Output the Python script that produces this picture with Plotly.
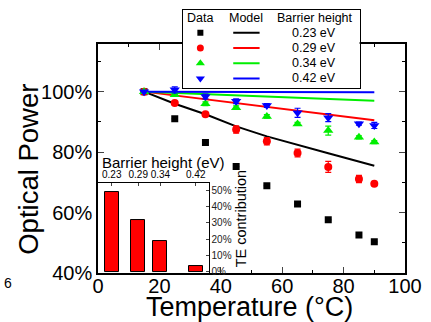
import plotly.graph_objects as go

# ---------------- data ----------------
temperature = [15, 25, 35, 45, 55, 65, 75, 85, 90]
data_023 = [100, 91.0, 83.2, 75.2, 68.9, 62.8, 57.6, 52.6, 50.3]
data_029 = [100, 96.2, 92.5, 87.5, 83.6, 79.7, 75.1, 71.1, 69.5]
data_034 = [100, 99.0, 96.0, 94.7, 91.8, 89.3, 87.1, 84.9, 83.3]
data_042 = [100, 100.6, 98.4, 96.8, 95.4, 93.0, 91.4, 89.4, 88.8]
err_023 = [0, 0, 0, 0, 0, 0, 0, 0, 0]
err_029 = [0, 0.5, 0.6, 1.2, 1.2, 1.3, 1.8, 1.2, 0.5]
err_034 = [0, 0.6, 0.6, 0.6, 0.6, 0.5, 1.5, 0.5, 0.5]
err_042 = [0, 1.0, 0.8, 0.8, 0.6, 1.5, 1.3, 0.5, 1.0]

model_T_023 = [15, 25, 35, 45, 55, 65, 75, 90]
model_023 = [100, 96.0, 92.5, 88.5, 85.2, 82.3, 79.6, 75.5]
model_T_029 = [15, 90]
model_029 = [100, 90.5]
model_T_034 = [15, 90]
model_034 = [100, 97.0]
model_T_042 = [15, 90]
model_042 = [100, 99.8]

barrier = [0.23, 0.29, 0.34, 0.42]
barrier_labels = ["0.23", "0.29", "0.34", "0.42"]
legend_labels = ["0.23 eV", "0.29 eV", "0.34 eV", "0.42 eV"]
te_contribution = [49.0, 31.7, 18.9, 3.5]

y_ticks = [40, 60, 80, 100]
x_ticks = [0, 20, 40, 60, 80, 100]

# ---------------- styles ----------------
colors = ["#000000", "#FF0000", "#00EE00", "#0000FF"]
symbols = ["square", "circle", "triangle-up", "triangle-down"]
sizes = [7, 8, 9, 9]
FONT = "Liberation Sans, Arial, sans-serif"

W, H = 431, 322
ML, MR, MT, MB = 98, 22, 9, 49
PW, PH = W - ML - MR, H - MT - MB


def px_x(p):
    return (p - ML) / PW


def px_y(p):
    return (H - MB - p) / PH


fig = go.Figure()

series = [data_023, data_029, data_034, data_042]
errors = [err_023, err_029, err_034, err_042]
models = [(model_T_023, model_023), (model_T_029, model_029),
          (model_T_034, model_034), (model_T_042, model_042)]

for i in range(4):
    mx, my = models[i]
    fig.add_trace(go.Scatter(x=mx, y=my, mode="lines", line=dict(color=colors[i], width=2),
                             xaxis="x", yaxis="y", showlegend=False, hoverinfo="skip"))
for i in range(4):
    fig.add_trace(go.Scatter(
        x=temperature, y=series[i], mode="markers",
        marker=dict(symbol=symbols[i], size=sizes[i], color=colors[i], line=dict(width=0)),
        error_y=dict(type="data", array=errors[i], visible=True, color=colors[i], thickness=1.2, width=3),
        xaxis="x", yaxis="y", showlegend=False))

# inset bars
fig.add_trace(go.Bar(x=barrier, y=te_contribution, width=0.0315,
                     marker=dict(color="#FF0000", line=dict(color="#000000", width=1)),
                     xaxis="x2", yaxis="y2", showlegend=False))

# custom legend table
for i in range(4):
    fig.add_trace(go.Scatter(x=[17.7], y=[i + 1], mode="markers",
                             marker=dict(symbol=symbols[i], size=sizes[i] - 1, color=colors[i]),
                             xaxis="x3", yaxis="y3", showlegend=False, hoverinfo="skip"))
    fig.add_trace(go.Scatter(x=[51, 77.7], y=[i + 1, i + 1], mode="lines",
                             line=dict(color=colors[i], width=2),
                             xaxis="x3", yaxis="y3", showlegend=False, hoverinfo="skip"))

annotations = []
for txt, xx in [("Data", 17.7), ("Model", 64.3), ("Barrier height", 134.3)]:
    annotations.append(dict(text=txt, x=xx, y=0, xref="x3", yref="y3", showarrow=False,
                            xanchor="center", yanchor="middle",
                            font=dict(size=12.5, color="black", family=FONT)))
for i, lab in enumerate(legend_labels):
    annotations.append(dict(text=lab, x=132.7, y=i + 1, xref="x3", yref="y3", showarrow=False,
                            xanchor="center", yanchor="middle",
                            font=dict(size=12.5, color="black", family=FONT)))


def paper_note(text, px, py, size, angle=0):
    return dict(text=text, x=px_x(px), y=px_y(py), xref="paper", yref="paper",
                xanchor="center", yanchor="middle", showarrow=False, textangle=angle,
                font=dict(size=size, color="black", family=FONT))


annotations += [
    paper_note("Optical Power", 27.5, 169, 27.5, -90),
    paper_note("Temperature (°C)", 251, 307.5, 27),
    paper_note("Barrier height (eV)", 164, 161.7, 15),
    paper_note("TE contribution", 243, 218, 14.5, -90),
    paper_note("6", 7, 283, 14),
]

axis_common = dict(showline=True, linecolor="black", showgrid=False, zeroline=False)

fig.update_layout(
    width=W, height=H,
    margin=dict(l=ML, r=MR, t=MT, b=MB),
    paper_bgcolor="white", plot_bgcolor="white",
    font=dict(family=FONT, color="black"),
    bargap=0,
    xaxis=dict(domain=[0, 1], range=[0, 100], tickvals=x_ticks, ticks="inside", ticklen=6,
               tickwidth=1.2, mirror="ticks", linewidth=1.5, anchor="y",
               ticklabelstandoff=-6,
               minor=dict(dtick=10, ticks="inside", ticklen=3, tickcolor="black"),
               tickfont=dict(size=20), **axis_common),
    yaxis=dict(domain=[0, (H - MB - 43) / PH], range=[40, 115.8], tickvals=y_ticks,
               ticktext=[f"{v}%" for v in y_ticks], ticks="inside", ticklen=6, tickwidth=1.2,
               mirror="ticks", linewidth=1.5, anchor="x",
               minor=dict(dtick=10, ticks="inside", ticklen=3, tickcolor="black"),
               tickfont=dict(size=20), **axis_common),
    xaxis2=dict(domain=[0, px_x(210)], range=[0.199, 0.449], anchor="y2", side="top",
                tickvals=barrier, ticktext=barrier_labels, ticks="inside", ticklen=3,
                mirror=True, linewidth=1, tickfont=dict(size=10), **axis_common),
    yaxis2=dict(domain=[0, px_y(182.7)], range=[-0.8, 54.3], anchor="x2", side="right",
                dtick=10, ticksuffix="%", ticks="inside", ticklen=3, mirror=True, linewidth=1,
                tickfont=dict(size=10, color="#222"), **axis_common),
    xaxis3=dict(domain=[px_x(184), px_x(363)], range=[0, 179], anchor="y3", mirror=True,
                linewidth=1, showticklabels=False, ticks="", **axis_common),
    yaxis3=dict(domain=[px_y(87), 1.0], range=[4.61, -0.505], anchor="x3", mirror=True,
                linewidth=1, showticklabels=False, ticks="", **axis_common),
    annotations=annotations,
)

fig.write_html("out.html")
